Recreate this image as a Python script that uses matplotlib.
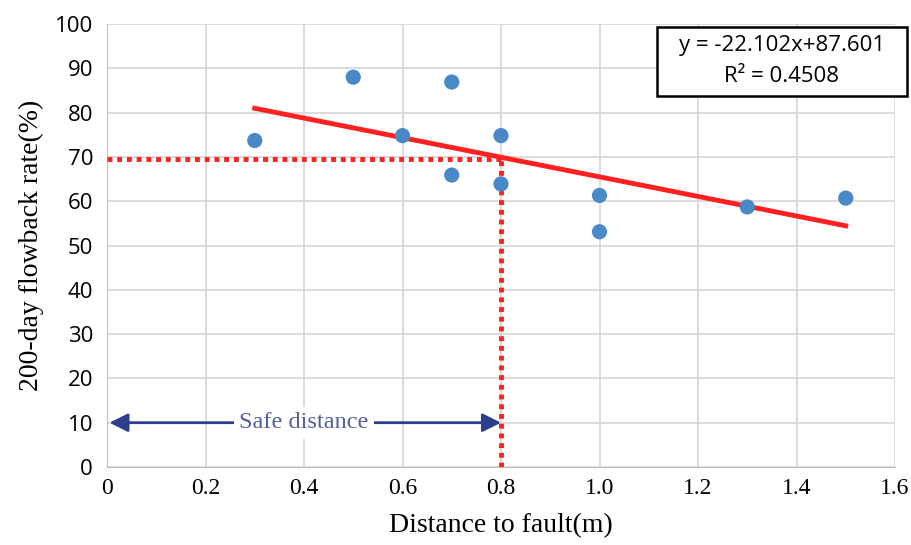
import numpy as np
import matplotlib.pyplot as plt
from matplotlib.patches import Rectangle

# data
distance = [0.3, 0.5, 0.6, 0.7, 0.7, 0.8, 0.8, 1.0, 1.0, 1.3, 1.5]
flowback = [73.7, 88.0, 74.8, 86.9, 65.9, 74.8, 63.9, 61.3, 53.1, 58.7, 60.7]

slope = -22.102
intercept = 87.601
r2 = 0.4508

safe_x = 0.8
safe_y = 69.5

fig = plt.figure(figsize=(9.11, 5.45), dpi=100)
ax = fig.add_axes([107 / 911, 1 - 467 / 545, 788 / 911, 443 / 545])

# trend line
xfit = np.array([min(distance), max(distance)])
ax.plot(xfit, slope * xfit + intercept, color='#ff2020', lw=3.5, zorder=3)

ax.scatter(distance, flowback, s=120, color='#4a89c8', zorder=4, edgecolors='none')

# safe distance guides
ax.plot([0, safe_x], [safe_y, safe_y], color='#ff2020', lw=3.5, ls=(0, (1, 1)), zorder=3)
ax.plot([safe_x, safe_x], [0, safe_y], color='#ff2020', lw=3.5, ls=(0, (1, 1)), zorder=3)

ax.annotate('', xy=(0.005, 10), xytext=(safe_x, 10),
            arrowprops=dict(arrowstyle='<|-|>', color='#2b3f8e', lw=2,
                            mutation_scale=28, shrinkA=0, shrinkB=0), zorder=5)
ax.text(0.4, 10, 'Safe distance', family='Liberation Serif', fontsize=17.5,
        color='#535f9f', ha='center', va='center', zorder=6,
        bbox=dict(facecolor='white', edgecolor='none', pad=4))

ax.set_xlim(0, 1.6)
ax.set_ylim(0, 100)
ax.set_xticks(np.arange(0, 1.61, 0.2))
ax.set_xticklabels(['0', '0.2', '0.4', '0.6', '0.8', '1.0', '1.2', '1.4', '1.6'],
                   family='Liberation Serif', fontsize=17)
ax.set_yticks(np.arange(0, 101, 10))
ax.set_yticklabels([str(v) for v in range(0, 101, 10)],
                   family='Open Sans', fontsize=16)
ax.tick_params(axis='y', length=0, pad=10)
ax.tick_params(axis='x', length=0, pad=8)
ax.grid(True, color='#d6d6d6', lw=1.2)
ax.set_axisbelow(True)
for s in ['top', 'right']:
    ax.spines[s].set_visible(False)
for s in ['left', 'bottom']:
    ax.spines[s].set_color('#bfbfbf')

ax.set_xlabel('Distance to fault(m)', family='Liberation Serif', fontsize=20, labelpad=10)
ax.set_ylabel('200-day flowback rate(%)', family='Liberation Serif', fontsize=20, labelpad=8)

# equation box
fig.patches.append(Rectangle((657 / 911, 1 - 96 / 545), 250 / 911, 69 / 545,
                             transform=fig.transFigure, facecolor='white',
                             edgecolor='black', lw=1.8, zorder=10))
fig.text(782 / 911, 1 - 45 / 545, 'y = -22.102x+87.601', family='Open Sans',
         fontsize=16, ha='center', va='center', zorder=11)
fig.text(782 / 911, 1 - 76 / 545, 'R² = 0.4508', family='Open Sans',
         fontsize=16, ha='center', va='center', zorder=11)

fig.savefig('out.png', dpi=100)
